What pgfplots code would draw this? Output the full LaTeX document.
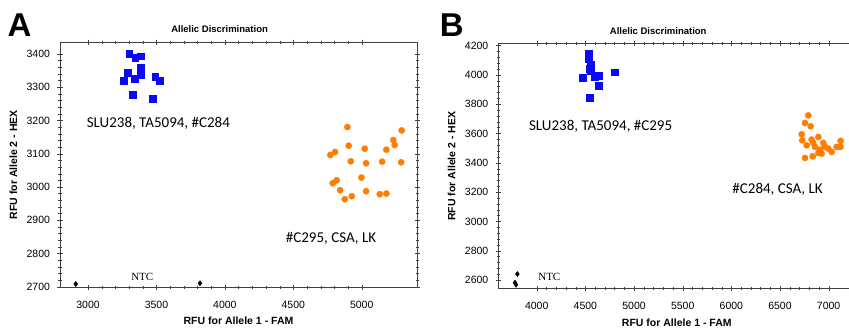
\documentclass[border=0pt]{standalone}
\usepackage{pgfplots}
\pgfplotsset{compat=1.18}
\usepackage{fontspec}
\setmainfont{Liberation Sans}
\newfontfamily\calibri{Carlito}
\newfontfamily\timesf{Liberation Serif}
\definecolor{myblue}{RGB}{10,10,245}
\definecolor{myorange}{RGB}{255,125,0}
\pgfplotsset{
  common/.style={
    scale only axis, anchor=south west,
    width=357pt, height=245pt,
    tick align=center,
    major tick length=5pt, minor tick length=3pt,
    axis line style={black!75}, tick style={black!75},
    every tick label/.append style={font=\fontsize{10.5}{12}\selectfont},
    xticklabel style={yshift=-7.5pt},
    yticklabel style={xshift=-4pt},
    /pgf/number format/assume math mode=true,
    /pgf/number format/1000 sep={},
    label style={font=\bfseries\fontsize{10.5}{12}\selectfont},
    xlabel style={at={(axis description cs:0.5,-0.138)}, anchor=center},
    ylabel style={at={(axis description cs:-0.1308,0.5)}, anchor=center, rotate=0},
    xlabel={RFU for Allele 1 - FAM},
    ylabel={RFU for Allele 2 - HEX},
    minor x tick num=4, minor y tick num=4,
    clip=false,
  },
  bl/.style={only marks, mark=square*, mark size=3.4pt, color=myblue},
  or/.style={only marks, mark=*, mark size=3.1pt, color=myorange},
  nt/.style={only marks, mark=diamond*, mark size=2.6pt, color=black},
}
\begin{document}
\begin{tikzpicture}
\useasboundingbox (0,0) rectangle (849pt,328pt);
\begin{axis}[common, at={(60pt,40.7pt)},
  xmin=2795, xmax=5404, ymin=2698, ymax=3435,
  xtick={3000,3500,...,5000}, ytick={2700,2800,...,3400}]
\addplot[bl] coordinates {(3300,3400) (3344,3388) (3385,3393) (3290,3343) (3385,3358) (3385,3338) (3341,3325) (3263,3319) (3490,3331) (3524,3320) (3327,3277) (3470,3265)};
\addplot[or] coordinates {(4895,3180) (5292,3170) (5231,3141) (5241,3126) (4771,3096) (4805,3105) (4905,3124) (5022,3115) (5180,3112) (4920,3077) (5032,3071) (5149,3076) (5288,3074) (4788,3011) (4817,3020) (4998,3028) (4842,2990) (4876,2963) (4927,2972) (5032,2987) (5132,2978) (5180,2980)};
\addplot[nt] coordinates {(2910,2708) (3818,2710)};
\node[font=\bfseries\fontsize{9.5}{11}\selectfont] at (axis description cs:0.447,1.052) {Allelic Discrimination};
\node[font=\timesf\fontsize{11}{12}\selectfont, anchor=west] at (axis cs:3290,2728) {NTC};
\node[font=\calibri\fontsize{15}{17}\selectfont, anchor=west] at (axis cs:2965,3190) {SLU238, TA5094, \#C284};
\node[font=\calibri\fontsize{15}{17}\selectfont, anchor=west] at (axis cs:4420,2846) {\#C295, CSA, LK};
\end{axis}
\begin{axis}[common, at={(498.3pt,39.3pt)},
  xmin=3605, xmax=7274, ymin=2541, ymax=4212,
  xtick={4000,4500,...,7000}, ytick={2600,2800,...,4200}]
\addplot[bl] coordinates {(4531,4143) (4538,4109) (4555,4071) (4548,4041) (4558,4025) (4469,3980) (4599,3989) (4634,3996) (4640,3928) (4805,4018) (4545,3841)};
\addplot[or] coordinates {(6791,3723) (6757,3671) (6815,3649) (6723,3594) (6729,3553) (6774,3519) (6825,3558) (6842,3535) (6894,3576) (6860,3508) (6911,3490) (6945,3535) (6962,3508) (6928,3462) (6997,3496) (7031,3474) (7082,3508) (7123,3549) (7123,3508) (6757,3433) (6836,3444) (6894,3467)};
\addplot[nt] coordinates {(3801,2641) (3777,2582) (3787,2568)};
\node[font=\bfseries\fontsize{9.5}{11}\selectfont] at (axis description cs:0.448,1.052) {Allelic Discrimination};
\node[font=\timesf\fontsize{11}{12}\selectfont, anchor=west] at (axis cs:3980,2623) {NTC};
\node[font=\calibri\fontsize{15}{17}\selectfont, anchor=west] at (axis cs:3885,3651) {SLU238, TA5094, \#C295};
\node[font=\calibri\fontsize{15}{17}\selectfont, anchor=west] at (axis cs:5975,3220) {\#C284, CSA, LK};
\end{axis}
\node[font=\bfseries\fontsize{33}{35}\selectfont] at (19.5pt,302.7pt) {A};
\node[font=\bfseries\fontsize{33}{35}\selectfont] at (451.7pt,302.7pt) {B};
\end{tikzpicture}
\end{document}
